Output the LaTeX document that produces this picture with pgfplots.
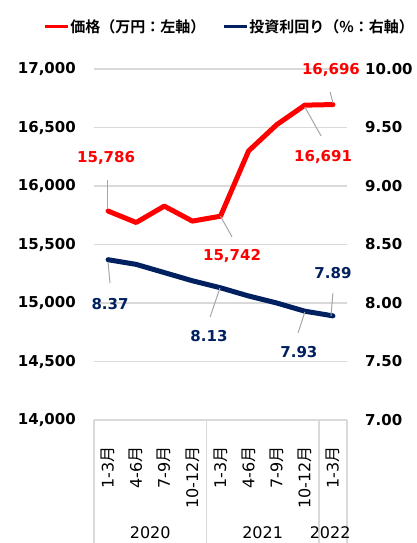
\documentclass[border=0pt]{standalone}
\usepackage{fontspec}
\setmainfont{DejaVu Sans}
\newfontfamily\jp{Noto Sans CJK JP}[BoldFont={Noto Sans CJK JP Bold}]
\usepackage{pgfplots}
\pgfplotsset{compat=1.18}
\definecolor{pricered}{RGB}{255,0,0}
\definecolor{navy}{HTML}{002060}
\definecolor{gridgray}{HTML}{D9D9D9}
\definecolor{leadgray}{HTML}{A6A6A6}
\newcommand\fs{\fontsize{15bp}{18bp}\selectfont}
\newcommand\fc{\fontsize{16bp}{19bp}\selectfont}
\newcommand\tsuki{{\jp 月}}
\begin{document}
\begin{tikzpicture}
\useasboundingbox (0,0) rectangle (417bp,543bp);
\begin{axis}[
  at={(94bp,123bp)}, anchor=south west, scale only axis,
  width=253bp, height=351bp,
  xmin=-0.5, xmax=8.5, ymin=14000, ymax=17000,
  xtick={0,...,8},
  xticklabels={1-3\tsuki,4-6\tsuki,7-9\tsuki,10-12\tsuki,1-3\tsuki,4-6\tsuki,7-9\tsuki,10-12\tsuki,1-3\tsuki},
  xticklabel style={rotate=90, anchor=east, font=\fc, inner sep=0pt},
  xticklabel shift=26bp,
  ytick={14000,14500,...,17000},
  scaled y ticks=false,
  ymajorgrids, grid style={gridgray, line width=1.3bp},
  axis x line*=bottom, axis y line*=left,
  x axis line style={gridgray, line width=1.3bp, -},
  y axis line style={draw=none},
  major tick length=0pt,
  yticklabel style={font=\fs\bfseries, anchor=east, inner sep=0pt},
  yticklabel shift=18bp,
  /pgf/number format/fixed, /pgf/number format/1000 sep={,},
  /pgf/number format/assume math mode=true,
  clip=false,
]
\addplot[pricered, line width=5bp, line join=round, line cap=round] coordinates {
 (0,15786) (1,15688) (2,15828) (3,15700) (4,15742) (5,16300) (6,16524) (7,16691) (8,16696)};
\draw[leadgray, line width=1bp] (axis cs:-0.03,16051) -- (axis cs:-0.03,15800);
\draw[leadgray, line width=1bp] (axis cs:4,15742) -- (axis cs:4.41,15565);
\draw[leadgray, line width=1bp] (axis cs:7.9,16803) -- (axis cs:8,16710);
\draw[leadgray, line width=1bp] (axis cs:7,16675) -- (axis cs:7.58,16427);
\node[text=pricered, font=\fs\bfseries] at (axis cs:-0.07,16239) {15,786};
\node[text=pricered, font=\fs\bfseries] at (axis cs:4.41,15402) {15,742};
\node[text=pricered, font=\fs\bfseries] at (axis cs:7.93,16991) {16,696};
\node[text=pricered, font=\fs\bfseries] at (axis cs:7.65,16248) {16,691};
% category separators and years
\draw[gridgray, line width=1.3bp] (axis cs:-0.5,14000) -- ++(0bp,-130bp);
\draw[gridgray, line width=1.3bp] (axis cs:3.5,14000) -- ++(0bp,-130bp);
\draw[gridgray, line width=1.3bp] (axis cs:7.5,14000) -- ++(0bp,-130bp);
\draw[gridgray, line width=1.3bp] (axis cs:8.5,14000) -- ++(0bp,-130bp);
\node[font=\fc] at (axis cs:1.5,14000) [yshift=-113bp] {2020};
\node[font=\fc] at (axis cs:5.5,14000) [yshift=-113bp] {2021};
\node[font=\fc] at (axis cs:7.9,14000) [yshift=-113bp] {2022};
\end{axis}
\begin{axis}[
  at={(94bp,123bp)}, anchor=south west, scale only axis,
  width=253bp, height=351bp,
  xmin=-0.5, xmax=8.5, ymin=7, ymax=10,
  hide x axis,
  axis y line*=right,
  y axis line style={draw=none},
  major tick length=0pt,
  ytick={7,7.5,8,8.5,9,9.5,10},
  yticklabel style={font=\fs\bfseries, anchor=west, inner sep=0pt},
  yticklabel shift=18bp,
  /pgf/number format/fixed, /pgf/number format/fixed zerofill,
  /pgf/number format/precision=2,
  /pgf/number format/assume math mode=true,
  clip=false,
  legend style={at={(0.534,1.12)}, anchor=center, draw=none, fill=none,
    legend columns=2, font=\fs\jp\bfseries,
    nodes={inner sep=1bp},
    /tikz/every even column/.append style={column sep=16bp}},
]
\addlegendimage{legend image code/.code={\draw[pricered, line width=3bp] (0bp,0bp) -- (23bp,0bp);}}
\addlegendentry{価格（万円：左軸）}
\addlegendimage{legend image code/.code={\draw[navy, line width=3bp] (0bp,0bp) -- (23bp,0bp);}}
\addlegendentry{投資利回り（\%：右軸）}
\addplot[navy, line width=5bp, line join=round, line cap=round, forget plot] coordinates {
 (0,8.37) (1,8.33) (2,8.26) (3,8.19) (4,8.13) (5,8.06) (6,8.00) (7,7.93) (8,7.89)};
\draw[leadgray, line width=1bp] (axis cs:0,8.35) -- (axis cs:0.07,8.17);
\draw[leadgray, line width=1bp] (axis cs:3.98,8.128) -- (axis cs:3.63,7.88);
\draw[leadgray, line width=1bp] (axis cs:7.0,7.923) -- (axis cs:6.76,7.744);
\draw[leadgray, line width=1bp] (axis cs:8.0,8.085) -- (axis cs:7.93,7.889);
\node[text=navy, font=\fs\bfseries] at (axis cs:0.07,7.991) {8.37};
\node[text=navy, font=\fs\bfseries] at (axis cs:3.59,7.718) {8.13};
\node[text=navy, font=\fs\bfseries] at (axis cs:6.79,7.581) {7.93};
\node[text=navy, font=\fs\bfseries] at (axis cs:8.0,8.256) {7.89};
\end{axis}
\end{tikzpicture}
\end{document}
